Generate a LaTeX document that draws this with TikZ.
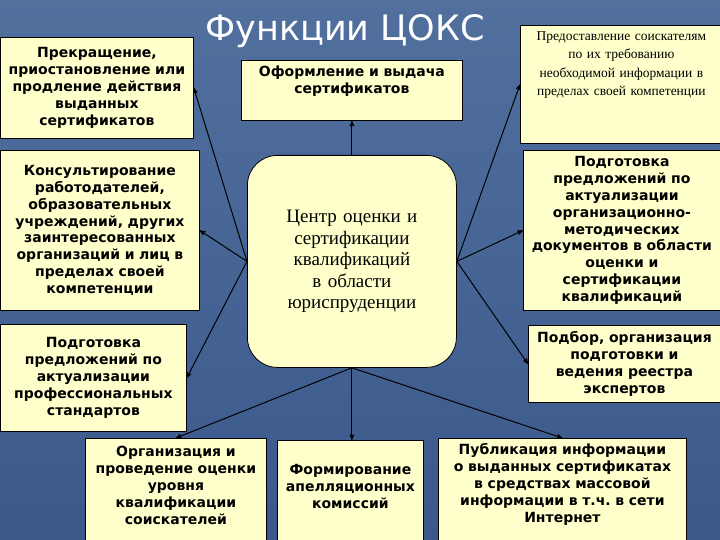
\documentclass[tikz,border=0pt]{standalone}
\usepackage{fontspec}
\setmainfont{Liberation Serif}
\newfontfamily\cardfont{DejaVu Sans}
\usetikzlibrary{arrows}
\definecolor{bgtop}{RGB}{82,112,158}
\definecolor{bgbottom}{RGB}{58,88,138}
\definecolor{cardfill}{RGB}{255,255,204}

\begin{document}
\begin{tikzpicture}[x=1pt,y=-1pt,
  card/.style={draw=black,line width=0.8pt,fill=cardfill,anchor=north west,inner sep=3pt,align=center,
    font=\cardfont\bfseries\fontsize{14}{16.8}\selectfont},
  serifcard/.style={card,font=\fontsize{13.5}{18.5}\selectfont},
  link/.style={->,>=stealth',line width=1pt}]
\useasboundingbox (0,0) rectangle (720,540);
\fill[top color=bgtop,bottom color=bgbottom] (0,0) rectangle (720,540);

\node[font=\cardfont\fontsize{35}{40}\selectfont,text=white] (title) at (345,31) {Функции ЦОКС};

% top row
\node[card,minimum width=193pt,minimum height=101pt,text width=187pt] (stop) at (0,37)
  {Прекращение,\\ приостановление или\\ продление действия\\ выданных\\ сертификатов};
\node[card,minimum width=221pt,text width=215pt,text height=13pt,text depth=41pt] (issue) at (241,60)
  {Оформление и выдача\\ сертификатов};
\node[serifcard,minimum width=200pt,text width=196pt,text height=12pt,text depth=100pt] (info) at (520,25)
  {Предоставление соискателям\\ по их требованию\\ необходимой информации в\\ пределах своей компетенции};

% middle
\node[card,minimum width=199pt,minimum height=160pt,text width=193pt] (consult) at (0,150)
  {Консультирование\\ работодателей,\\ образовательных\\ учреждений, других\\ заинтересованных\\ организаций и лиц в\\ пределах своей\\ компетенции};
\node[card,rounded corners=30pt,minimum width=209pt,minimum height=212pt,text width=200pt,
  font=\fontsize{19}{21.5}\selectfont] (centre) at (247,155)
  {Центр оценки и\\ сертификации\\ квалификаций\\ в области\\ юриспруденции};
\node[card,minimum width=197pt,minimum height=160pt,text width=191pt] (docs) at (523,150)
  {Подготовка\\ предложений по\\ актуализации\\ организационно-\\ методических\\ документов в области\\ оценки и\\ сертификации\\ квалификаций};
\node[card,minimum width=186pt,minimum height=107pt,text width=180pt] (standards) at (0,324)
  {Подготовка\\ предложений по\\ актуализации\\ профессиональных\\ стандартов};
\node[card,minimum width=192pt,minimum height=77pt,text width=186pt] (experts) at (528,325)
  {Подбор, организация\\ подготовки и\\ ведения реестра\\ экспертов};

% bottom row, cut by the lower edge
\node[card,minimum width=179pt,text width=175pt,text height=15.5pt,text depth=88.5pt] (assess) at (85,438)
  {Организация и\\ проведение оценки\\ уровня\\ квалификации\\ соискателей};
\node[card,minimum width=144pt,text width=140pt,text height=31.5pt,text depth=72.5pt] (appeal) at (277,440)
  {Формирование\\ апелляционных\\ комиссий};
\node[card,minimum width=246pt,text width=242pt,text height=13.5pt,text depth=90.5pt] (publish) at (438,438)
  {Публикация информации\\ о выданных сертификатах\\ в средствах массовой\\ информации в т.ч.\ в сети\\ Интернет};

\path[link] (centre.north) edge (issue.south)
  (centre.west) edge (stop.east)
    edge (consult.east)
    edge (standards.east)
  (centre.east) edge (info.west)
    edge (docs.west)
    edge (experts.west)
  (centre.south) edge (assess.north)
    edge (centre.south |- appeal.north)
    edge (publish.north);
\end{tikzpicture}
\end{document}
